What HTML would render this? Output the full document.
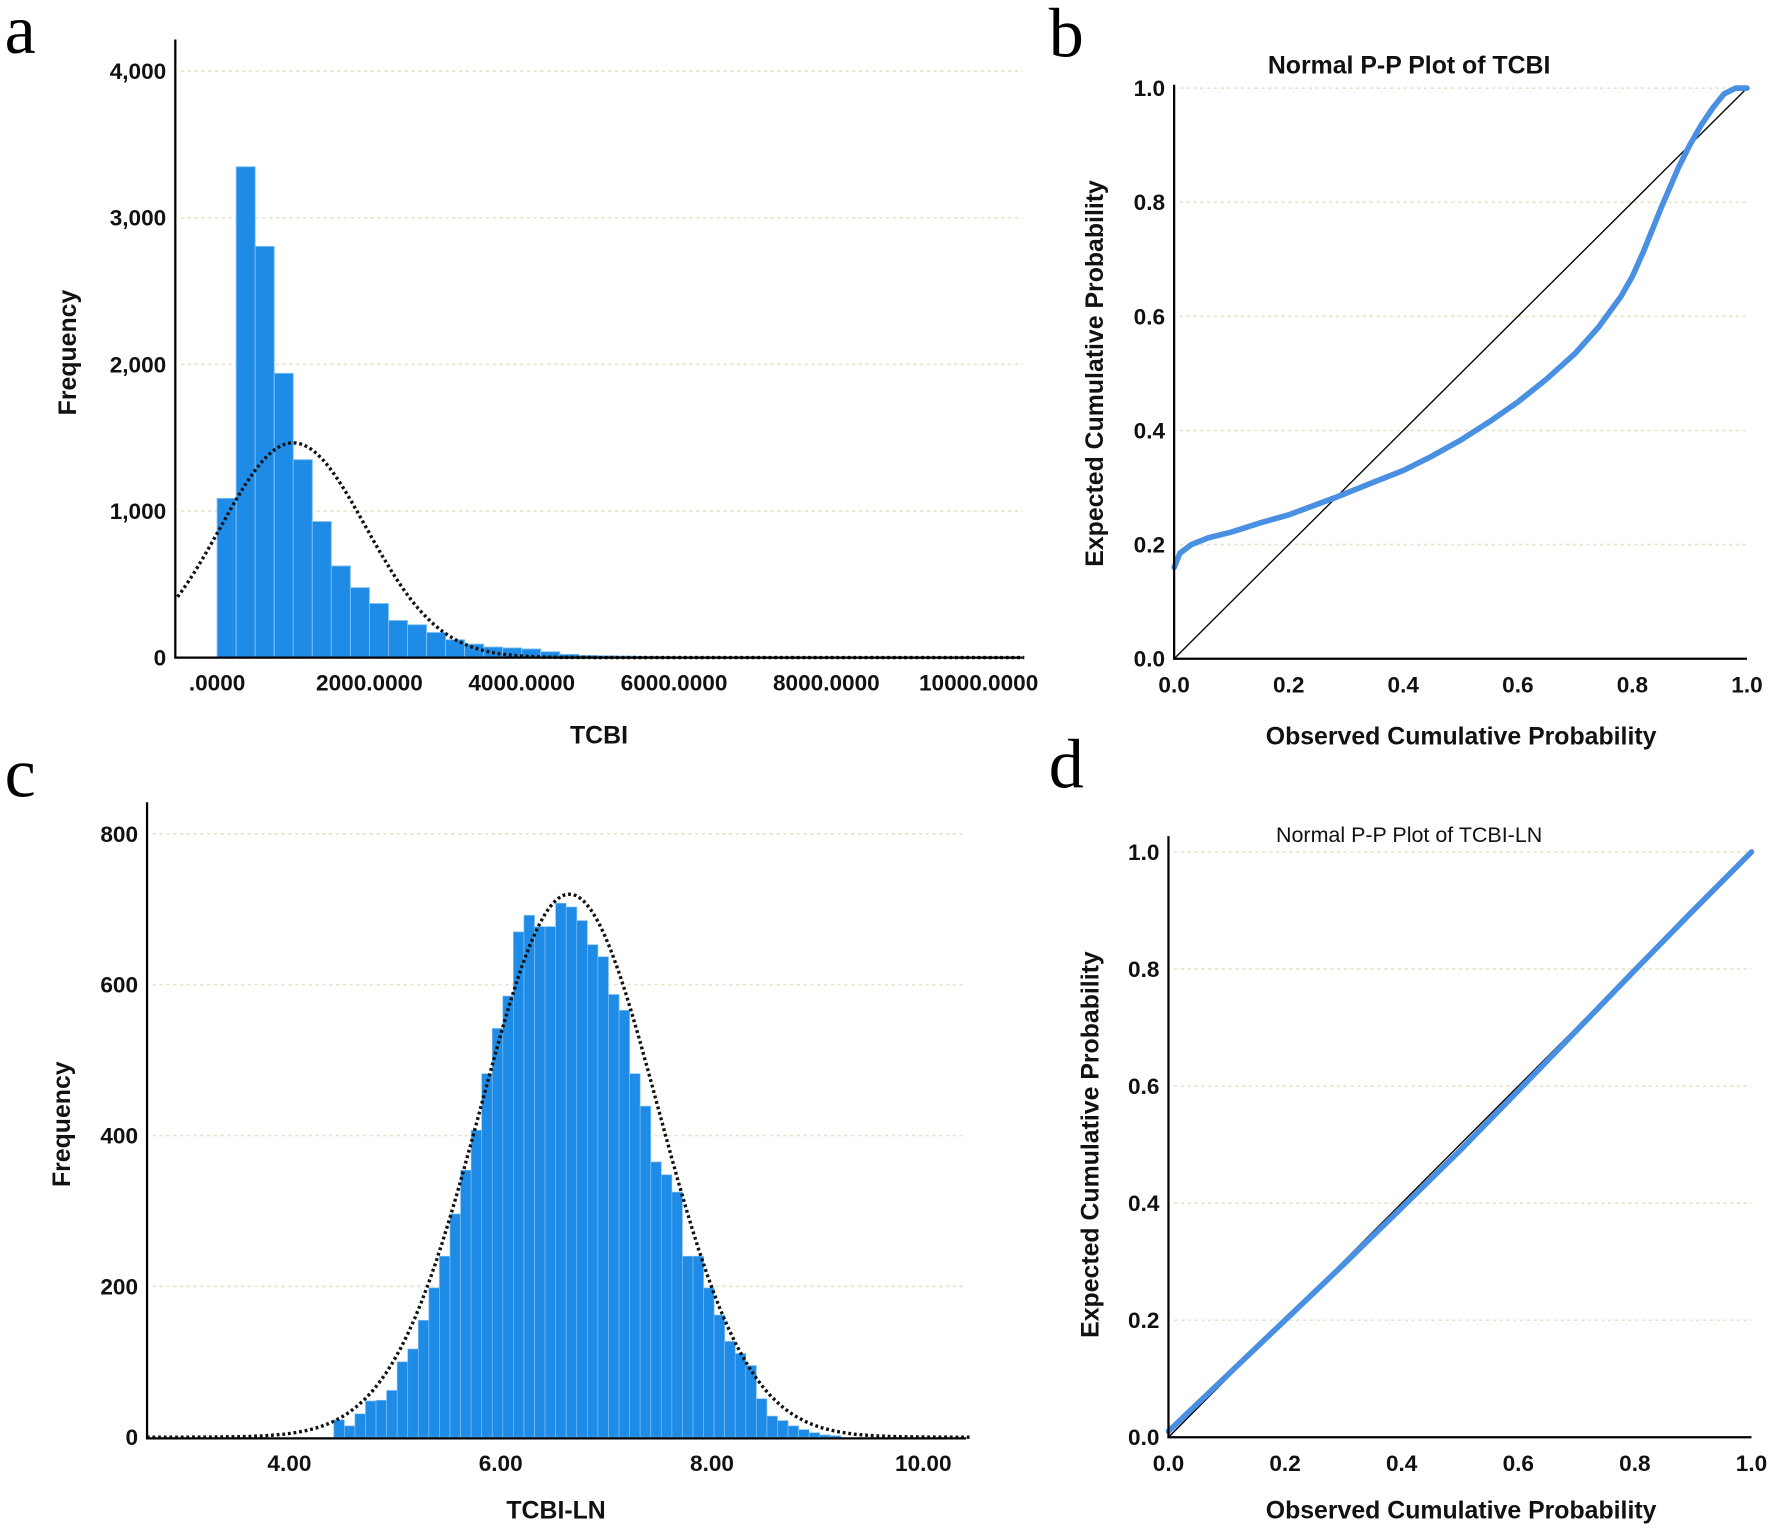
<!DOCTYPE html>
<html><head><meta charset="utf-8"><style>
html,body{margin:0;padding:0;background:#fff;}
svg{display:block;}
text{font-family:"Liberation Sans",Arial,sans-serif;}
.tk{font-size:20px;font-weight:bold;fill:#111;}
.at{font-size:22px;font-weight:bold;fill:#111;}
.lt{font-family:"Liberation Serif",serif;font-size:62px;fill:#000;}
</style></head><body>
<svg id="fig" width="1772" height="1531" viewBox="0 0 1568 1355" xmlns="http://www.w3.org/2000/svg"></svg>
<script>
// ---- Panel a data (TCBI histogram, bin width 250 starting at 0)
const aBinWidth = 250;
const aCounts = [1086,3348,2805,1939,1350,928,625,477,369,253,224,171,122,92,72,66,59,40,22,15,12,10,8,6,5,4,3,3,2,2,2,1,1,1,1,1,1,1,1,1,1,1];
const aYTicks = [0,1000,2000,3000,4000];
const aYTickLabels = ["0","1,000","2,000","3,000","4,000"];
const aXTicks = [0,2000,4000,6000,8000,10000];
const aXTickLabels = [".0000","2000.0000","4000.0000","6000.0000","8000.0000","10000.0000"];
const aNormMean = 1000, aNormSd = 956, aNormPeak = 1465;
// ---- Panel c data (TCBI-LN histogram, bin width 0.1)
const cBinStart = 4.42, cBinWidth = 0.1;
const cCounts = [23,15,31,48,49,62,100,117,155,198,240,296,354,407,482,542,585,670,692,677,677,708,703,685,653,637,587,566,482,439,365,348,325,240,240,198,162,127,111,95,51,28,22,15,10,6,3,2];
const cYTicks = [0,200,400,600,800];
const cYTickLabels = ["0","200","400","600","800"];
const cXTicks = [4,6,8,10];
const cXTickLabels = ["4.00","6.00","8.00","10.00"];
const cNormMean = 6.65, cNormSd = 0.84, cNormPeak = 720;
// ---- Panel b data (P-P plot TCBI)
const bObs = [0,0.01,0.03,0.06,0.1,0.15,0.2,0.28,0.35,0.4,0.45,0.5,0.55,0.6,0.65,0.7,0.74,0.78,0.8,0.82,0.85,0.88,0.9,0.92,0.94,0.96,0.98,1];
const bExp = [0.16,0.185,0.2,0.212,0.222,0.238,0.252,0.282,0.31,0.33,0.355,0.383,0.415,0.45,0.49,0.535,0.58,0.635,0.67,0.715,0.79,0.86,0.9,0.935,0.965,0.99,1.0,1.0];
// ---- Panel d data (P-P plot TCBI-LN)
const dObs = [0,0.1,0.2,0.3,0.4,0.5,0.6,0.7,0.8,0.9,1];
const dExp = [0.01,0.105,0.2,0.295,0.392,0.49,0.592,0.695,0.798,0.9,1];
const ppTicks = [0,0.2,0.4,0.6,0.8,1.0];
const ppTickLabels = ["0.0","0.2","0.4","0.6","0.8","1.0"];

const NS="http://www.w3.org/2000/svg";
const svg=document.getElementById('fig');
function el(tag,attrs,parent){const e=document.createElementNS(NS,tag);for(const k in attrs)e.setAttribute(k,attrs[k]);(parent||svg).appendChild(e);return e;}
function txt(s,attrs,parent){const e=el('text',attrs,parent);e.textContent=s;return e;}
function lin(d0,d1,r0,r1){return v=>r0+(v-d0)/(d1-d0)*(r1-r0);}

function panelLetter(s,x,y,name){const t=txt(s,{x:x,y:y,class:'lt'});}

// ================= Panel a =================
(function(){
 const g=el('g',{});
 const X=lin(0,10000,192,866), Y=lin(0,4000,582,63);
 aYTicks.forEach((v,i)=>{ if(v>0){const l=el('line',{x1:160,x2:905,y1:Y(v),y2:Y(v),stroke:'#e6e6cf','stroke-width':1.5,'stroke-dasharray':'3 3'},g);}
  const t=txt(aYTickLabels[i],{x:147,y:Y(v)+7,'text-anchor':'end',class:'tk'},g);});
 aCounts.forEach((c,i)=>{const x0=X(i*aBinWidth),x1=X((i+1)*aBinWidth);
  const r=el('rect',{x:x0,y:Y(c),width:x1-x0,height:Y(0)-Y(c),fill:'#1e8ce6',stroke:'#7fc0f2','stroke-width':0.8},g);
  });
 let pts=[];for(let v=-520;v<=10600;v+=20){const y=aNormPeak*Math.exp(-Math.pow(v-aNormMean,2)/(2*aNormSd*aNormSd));pts.push(X(v).toFixed(1)+','+Y(y).toFixed(1));}
 const p=el('polyline',{points:pts.join(' '),fill:'none',stroke:'#111','stroke-width':3,'stroke-dasharray':'2.5 2.5'},g);
 const ax=el('path',{d:'M155,35 V582 H905',fill:'none',stroke:'#000','stroke-width':2},g);
 aXTicks.forEach((v,i)=>{const t=txt(aXTickLabels[i],{x:X(v),y:611,'text-anchor':'middle',class:'tk'},g);});
 const xt=txt('TCBI',{x:530,y:658,'text-anchor':'middle',class:'at'},g);
 const yt=txt('Frequency',{x:0,y:0,'text-anchor':'middle',class:'at',transform:'translate(67,312) rotate(-90)'},g);
})();
panelLetter('a',4,47,'panel-label-a');

// ================= Panel c =================
(function(){
 const g=el('g',{});
 const X=lin(4,8,256,630), Y=lin(0,800,1272,738);
 cYTicks.forEach((v,i)=>{ if(v>0){const l=el('line',{x1:135,x2:855,y1:Y(v),y2:Y(v),stroke:'#e6e6cf','stroke-width':1.5,'stroke-dasharray':'3 3'},g);}
  const t=txt(cYTickLabels[i],{x:122,y:Y(v)+7,'text-anchor':'end',class:'tk'},g);});
 cCounts.forEach((c,i)=>{const x0=X(cBinStart+i*cBinWidth),x1=X(cBinStart+(i+1)*cBinWidth);
  const r=el('rect',{x:x0,y:Y(c),width:x1-x0,height:Y(0)-Y(c),fill:'#1e8ce6',stroke:'#7fc0f2','stroke-width':0.6},g);
  });
 let pts=[];for(let v=2.65;v<=10.45;v+=0.02){const y=cNormPeak*Math.exp(-Math.pow(v-cNormMean,2)/(2*cNormSd*cNormSd));pts.push(X(v).toFixed(1)+','+Y(y).toFixed(1));}
 const p=el('polyline',{points:pts.join(' '),fill:'none',stroke:'#111','stroke-width':3,'stroke-dasharray':'2.5 2.5'},g);
 const ax=el('path',{d:'M130,710 V1273 H855',fill:'none',stroke:'#000','stroke-width':2},g);
 cXTicks.forEach((v,i)=>{const t=txt(cXTickLabels[i],{x:X(v),y:1302,'text-anchor':'middle',class:'tk'},g);});
 const xt=txt('TCBI-LN',{x:492,y:1344,'text-anchor':'middle',class:'at'},g);
 const yt=txt('Frequency',{x:0,y:0,'text-anchor':'middle',class:'at',transform:'translate(62,995) rotate(-90)'},g);
})();
panelLetter('c',4,705,'panel-label-c');

// ================= P-P panels =================
function ppPanel(name,x0,x1,y0,y1,obs,exp,title,titleY,titleBold,xTitleY,yTitleX,axisTop){
 const g=el('g',{});
 const X=lin(0,1,x0,x1), Y=lin(0,1,y0,y1);
 ppTicks.forEach((v,i)=>{ if(v>0){const l=el('line',{x1:x0+5,x2:x1,y1:Y(v),y2:Y(v),stroke:'#e6e6cf','stroke-width':1.5,'stroke-dasharray':'3 3'},g);}
  const t=txt(ppTickLabels[i],{x:x0-8,y:Y(v)+7,'text-anchor':'end',class:'tk'},g);
  const t2=txt(ppTickLabels[i],{x:X(v),y:y0+30,'text-anchor':'middle',class:'tk'},g);});
 const ref=el('line',{x1:X(0),y1:Y(0),x2:X(1),y2:Y(1),stroke:'#000','stroke-width':1.2},g);
 const pts=obs.map((o,i)=>X(o).toFixed(1)+','+Y(exp[i]).toFixed(1)).join(' ');
 const p=el('polyline',{points:pts,fill:'none',stroke:'#4a90e2','stroke-width':5,'stroke-linejoin':'round','stroke-linecap':'round'},g);
 const ax=el('path',{d:'M'+x0+','+axisTop+' V'+y0+' H'+x1,fill:'none',stroke:'#000','stroke-width':2},g);
 const tt=txt(title,{x:1247,y:titleY,'text-anchor':'middle',style:'font-size:'+(titleBold?22:19)+'px;font-weight:'+(titleBold?'bold':'normal')+';fill:#111'},g);
 const xt=txt('Observed Cumulative Probability',{x:1293,y:xTitleY,'text-anchor':'middle',class:'at'},g);
 const yc=(y0+y1)/2;
 const yt=txt('Expected Cumulative Probability',{x:0,y:0,'text-anchor':'middle',class:'at',transform:'translate('+yTitleX+','+yc+') rotate(-90)'},g);
}
ppPanel('panel-b-pp-plot',1039,1546,583,78,bObs,bExp,'Normal P-P Plot of TCBI',65,true,659,976,75);
ppPanel('panel-d-pp-plot',1034,1550,1272,754,dObs,dExp,'Normal P-P Plot of TCBI-LN',745,false,1344,972,740);
panelLetter('b',928,50,'panel-label-b');
panelLetter('d',928,697,'panel-label-d');
</script>
</body></html>
